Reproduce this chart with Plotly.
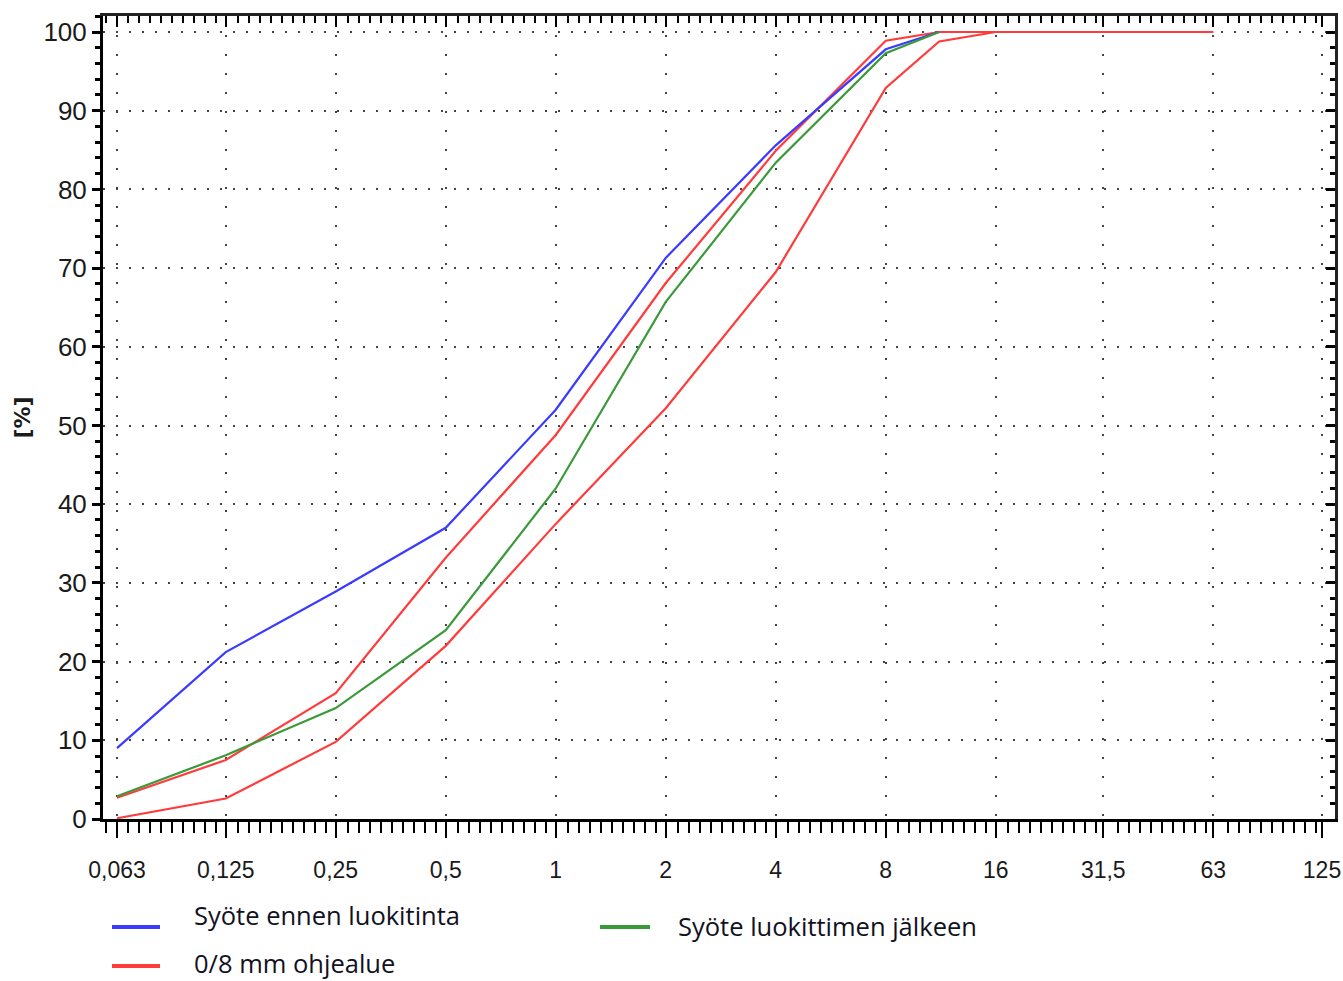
import numpy as np
import plotly.graph_objects as go

# ---- data ----
sieve_sizes = [0.063, 0.125, 0.25, 0.5, 1, 2, 4, 8, 11.2]
feed_before = [9.0, 21.2, 28.9, 37.0, 52.0, 71.3, 85.6, 97.8, 100.0]
feed_after = [2.9, 8.1, 14.1, 24.0, 42.0, 65.7, 83.4, 97.3, 100.0]

env_sizes = [0.063, 0.125, 0.25, 0.5, 1, 2, 4, 8, 11.2, 16, 31.5, 63]
env_upper = [2.7, 7.5, 16.0, 33.2, 48.8, 68.1, 84.9, 98.9, 100.0, 100.0, 100.0, 100.0]
env_lower = [0.1, 2.6, 9.8, 22.0, 37.5, 52.2, 69.5, 92.9, 98.8, 100.0, 100.0, 100.0]

tick_vals = [0.063, 0.125, 0.25, 0.5, 1, 2, 4, 8, 16, 31.5, 63, 125]
tick_text = ["0,063", "0,125", "0,25", "0,5", "1", "2", "4", "8", "16", "31,5", "63", "125"]
y_ticks = [0, 10, 20, 30, 40, 50, 60, 70, 80, 90, 100]

legend_names = ["Syöte ennen luokitinta", "0/8 mm ohjealue", "Syöte luokittimen jälkeen"]

BLUE = "#3b3bff"
RED = "#ff3b3b"
GREEN = "#3a9a3a"

fig = go.Figure()
# envelope on the base subplot, feed curves on the overlaid (identical-range) subplot drawn above
fig.add_trace(go.Scatter(x=env_sizes, y=env_lower, mode="lines", line=dict(color=RED, width=2.2),
                         name=legend_names[1], xaxis="x", yaxis="y"))
fig.add_trace(go.Scatter(x=env_sizes, y=env_upper, mode="lines", line=dict(color=RED, width=2.2),
                         name=legend_names[1], xaxis="x", yaxis="y"))
fig.add_trace(go.Scatter(x=sieve_sizes, y=feed_before, mode="lines", line=dict(color=BLUE, width=2.2),
                         name=legend_names[0], xaxis="x2", yaxis="y2"))
fig.add_trace(go.Scatter(x=sieve_sizes, y=feed_after, mode="lines", line=dict(color=GREEN, width=2.2),
                         name=legend_names[2], xaxis="x2", yaxis="y2"))

# axis decoration
ln2 = np.log10(2)
xr = [np.log10(0.063) - 14 / 110 * ln2, np.log10(125) + 13 / 110 * ln2]
yr = [0, 803 / 7.87]
minor_x = [0.063 * 2 ** (k / 10) for k in range(-1, 112) if k % 10 != 0]

NUM_FONT = "Liberation Sans, Arial, sans-serif"

fig.update_layout(
    width=1343, height=981,
    margin=dict(l=103, r=8, t=16, b=162, autoexpand=False),
    paper_bgcolor="white", plot_bgcolor="white",
    showlegend=False,
    xaxis=dict(
        type="log", range=xr, automargin=False,
        tickmode="array", tickvals=tick_vals, ticktext=tick_text,
        tickfont=dict(family=NUM_FONT, size=23, color="#1a1a1a"),
        ticks="outside", ticklen=16, tickwidth=2, tickcolor="black",
        ticklabelstandoff=12,
        showline=True, linewidth=3, linecolor="black",
        showgrid=True, gridcolor="#444444", gridwidth=2, griddash="2px,17px",
        minor=dict(tickmode="array", tickvals=minor_x, ticks="outside", ticklen=11,
                   tickwidth=1.5, tickcolor="black", showgrid=False),
        zeroline=False,
    ),
    xaxis2=dict(
        type="log", range=xr, overlaying="x", side="top", anchor="y2", automargin=False,
        tickmode="array", tickvals=tick_vals, showticklabels=False,
        ticks="inside", ticklen=11, tickwidth=2, tickcolor="black",
        showline=True, linewidth=2.5, linecolor="#222222", showgrid=False,
        minor=dict(tickmode="array", tickvals=minor_x, ticks="inside", ticklen=7,
                   tickwidth=1.5, tickcolor="black", showgrid=False),
        zeroline=False,
    ),
    yaxis=dict(
        range=yr, automargin=False,
        tickmode="array", tickvals=y_ticks,
        tickfont=dict(family=NUM_FONT, size=26, color="#1a1a1a"),
        ticks="outside", ticklen=8, tickwidth=3, tickcolor="black",
        ticklabelstandoff=0,
        showline=True, linewidth=3, linecolor="black",
        showgrid=True, gridcolor="#444444", gridwidth=2, griddash="2px,11px",
        minor=dict(dtick=2, ticks="outside", ticklen=5, tickwidth=3, tickcolor="black", showgrid=False),
        zeroline=False,
        title=dict(text="<b>[%]</b>", font=dict(family="DejaVu Sans", size=22, color="#1a1a1a"), standoff=7),
    ),
    yaxis2=dict(
        range=yr, overlaying="y", side="right", anchor="x2", automargin=False,
        tickmode="array", tickvals=y_ticks, showticklabels=False,
        ticks="inside", ticklen=9, tickwidth=3, tickcolor="black",
        showline=True, linewidth=2.5, linecolor="#222222", showgrid=False,
        minor=dict(dtick=2, ticks="inside", ticklen=5, tickwidth=3, tickcolor="black", showgrid=False),
        zeroline=False,
    ),
)

# ---- manual legend ----
def px_x(px):
    return (px - 103) / 1232

def px_y(py):
    return (819 - py) / 803

LEG_FONT = dict(family="Open Sans, Lato, sans-serif", size=25.5, color="#111122")
legend_items = [
    (BLUE, 112, 160, 927, 193, 915, legend_names[0]),
    (RED, 112, 160, 966, 193, 963, legend_names[1]),
    (GREEN, 600, 650, 927, 677, 926, legend_names[2]),
]
for color, lx0, lx1, ly, tx, ty, name in legend_items:
    fig.add_shape(type="line", xref="paper", yref="paper",
                  x0=px_x(lx0), x1=px_x(lx1), y0=px_y(ly), y1=px_y(ly),
                  line=dict(color=color, width=4))
    fig.add_annotation(xref="paper", yref="paper", x=px_x(tx), y=px_y(ty),
                       text=name, showarrow=False, xanchor="left", yanchor="middle",
                       borderpad=0, font=LEG_FONT)

fig.write_html(
    "out.html",
    config={"displayModeBar": False},
    post_script="document.body.style.margin='0';document.body.style.padding='0';",
)
